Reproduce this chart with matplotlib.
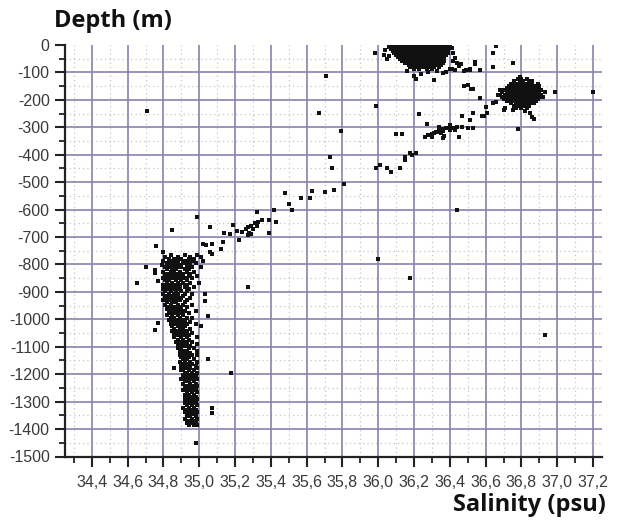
import numpy as np
import matplotlib
matplotlib.use("Agg")
import matplotlib.pyplot as plt
import matplotlib.ticker as ticker

plt.rcParams['font.family'] = ['Liberation Sans', 'DejaVu Sans']
plt.rcParams['axes.unicode_minus'] = False

# Surface water blob: (depth, [salinities]) rows
surf_rows = [
    (-2, [36.09, 36.11, 36.13, 36.15, 36.17, 36.19, 36.21, 36.23, 36.25, 36.27, 36.29, 36.31, 36.33, 36.35, 36.37, 36.39]),
    (-9, [36.08, 36.10, 36.12, 36.14, 36.16, 36.18, 36.20, 36.22, 36.24, 36.26, 36.28, 36.30, 36.32, 36.34, 36.36, 36.38, 36.40]),
    (-16, [36.07, 36.09, 36.11, 36.13, 36.15, 36.17, 36.19, 36.21, 36.23, 36.25, 36.27, 36.29, 36.31, 36.33, 36.35, 36.37, 36.39]),
    (-23, [36.08, 36.10, 36.12, 36.14, 36.16, 36.18, 36.20, 36.22, 36.24, 36.26, 36.28, 36.30, 36.32, 36.34, 36.36, 36.38]),
    (-30, [36.09, 36.11, 36.13, 36.15, 36.17, 36.19, 36.21, 36.23, 36.25, 36.27, 36.29, 36.31, 36.33, 36.35, 36.37, 36.39]),
    (-37, [36.10, 36.12, 36.14, 36.16, 36.18, 36.20, 36.22, 36.24, 36.26, 36.28, 36.30, 36.32, 36.34, 36.36, 36.38]),
    (-44, [36.11, 36.13, 36.15, 36.17, 36.19, 36.21, 36.23, 36.25, 36.27, 36.29, 36.31, 36.33, 36.35, 36.37]),
    (-51, [36.12, 36.14, 36.16, 36.18, 36.20, 36.22, 36.24, 36.26, 36.28, 36.30, 36.32, 36.34, 36.36]),
    (-58, [36.13, 36.15, 36.17, 36.19, 36.21, 36.23, 36.25, 36.27, 36.29, 36.31, 36.33, 36.35, 36.37]),
    (-65, [36.15, 36.18, 36.20, 36.22, 36.24, 36.26, 36.28, 36.30, 36.32, 36.34, 36.36]),
    (-72, [36.17, 36.19, 36.21, 36.23, 36.25, 36.27, 36.29, 36.31, 36.33, 36.35]),
    (-80, [36.18, 36.21, 36.24, 36.26, 36.29, 36.31, 36.34]),
    (-88, [36.20, 36.23, 36.27, 36.30]),
]

# Subtropical blob around 36.8 psu / -180 m
mid_rows = [
    (-125, [36.78, 36.80, 36.83]),
    (-133, [36.76, 36.79, 36.81, 36.84, 36.86]),
    (-141, [36.74, 36.76, 36.78, 36.80, 36.82, 36.84, 36.86, 36.89]),
    (-149, [36.73, 36.75, 36.77, 36.79, 36.81, 36.83, 36.85, 36.87, 36.90]),
    (-157, [36.72, 36.74, 36.76, 36.78, 36.80, 36.82, 36.84, 36.86, 36.88, 36.90]),
    (-165, [36.70, 36.73, 36.75, 36.77, 36.79, 36.81, 36.83, 36.85, 36.87, 36.89, 36.91]),
    (-173, [36.69, 36.72, 36.74, 36.76, 36.78, 36.80, 36.82, 36.84, 36.86, 36.88, 36.90]),
    (-181, [36.68, 36.71, 36.73, 36.75, 36.77, 36.79, 36.81, 36.83, 36.85, 36.87, 36.89, 36.91]),
    (-189, [36.69, 36.72, 36.74, 36.76, 36.78, 36.80, 36.82, 36.84, 36.86, 36.88, 36.90]),
    (-197, [36.70, 36.73, 36.75, 36.77, 36.79, 36.81, 36.83, 36.85, 36.87, 36.89]),
    (-205, [36.72, 36.74, 36.76, 36.78, 36.80, 36.82, 36.84, 36.86, 36.88]),
    (-213, [36.74, 36.77, 36.79, 36.81, 36.83, 36.85, 36.87]),
    (-221, [36.76, 36.78, 36.80, 36.82, 36.84]),
    (-229, [36.77, 36.80, 36.83]),
]

# Intermediate/deep water column
deep_rows = [
    (-765, [34.84, 34.92, 34.99]), (-772, [34.81, 34.88, 34.95, 35.01]),
    (-780, [34.83, 34.86, 34.90, 34.94, 34.97]), (-788, [34.80, 34.85, 34.88, 34.92, 34.96, 35.02]),
    (-795, [34.82, 34.84, 34.87, 34.91, 34.94, 34.98]), (-803, [34.79, 34.83, 34.86, 34.89, 34.93, 34.95]),
    (-810, [34.81, 34.84, 34.88, 34.90, 34.96, 35.01]), (-818, [34.82, 34.85, 34.87, 34.92, 34.94]),
    (-826, [34.80, 34.84, 34.86, 34.89, 34.93, 34.97]), (-834, [34.81, 34.83, 34.87, 34.91, 34.95]),
    (-842, [34.82, 34.85, 34.88, 34.90, 34.94, 34.99]), (-850, [34.80, 34.84, 34.86, 34.89, 34.92, 34.96]),
    (-858, [34.81, 34.83, 34.87, 34.90, 34.93]), (-866, [34.82, 34.85, 34.88, 34.91, 34.95, 35.00]),
    (-874, [34.80, 34.84, 34.86, 34.89, 34.93]), (-882, [34.81, 34.83, 34.85, 34.88, 34.92, 34.97]),
    (-890, [34.80, 34.82, 34.86, 34.89, 34.94]), (-898, [34.81, 34.84, 34.87, 34.90, 34.93]),
    (-906, [34.80, 34.83, 34.86, 34.88, 34.92, 34.96]), (-914, [34.82, 34.85, 34.87, 34.91]),
    (-922, [34.81, 34.84, 34.88, 34.90, 34.95]), (-930, [34.80, 34.83, 34.86, 34.89, 34.93]),
    (-938, [34.82, 34.85, 34.87, 34.92]), (-946, [34.81, 34.84, 34.88, 34.91, 34.96]),
    (-954, [34.83, 34.86, 34.89, 34.93]), (-962, [34.82, 34.85, 34.87, 34.90]),
    (-970, [34.83, 34.86, 34.89, 34.92, 34.98]), (-978, [34.84, 34.87, 34.90, 34.94]),
    (-986, [34.82, 34.85, 34.88, 34.91]), (-994, [34.84, 34.86, 34.89, 34.93, 34.96]),
    (-1002, [34.83, 34.87, 34.90, 34.92]), (-1010, [34.85, 34.88, 34.91, 34.95]),
    (-1018, [34.84, 34.86, 34.89, 34.93, 34.98]), (-1026, [34.85, 34.88, 34.90, 34.92]),
    (-1034, [34.86, 34.89, 34.91, 34.95]), (-1042, [34.85, 34.87, 34.90, 34.93]),
    (-1050, [34.86, 34.88, 34.92, 34.96]), (-1058, [34.87, 34.89, 34.91, 34.94]),
    (-1066, [34.86, 34.90, 34.93, 34.99]), (-1074, [34.88, 34.91, 34.94]),
    (-1082, [34.87, 34.89, 34.92, 34.96]), (-1090, [34.88, 34.90, 34.93, 34.99]),
    (-1098, [34.89, 34.92, 34.95]), (-1106, [34.88, 34.90, 34.94, 34.97]),
    (-1114, [34.89, 34.91, 34.93, 34.99]), (-1122, [34.90, 34.92, 34.95]),
    (-1130, [34.89, 34.93, 34.96, 34.99]), (-1138, [34.90, 34.92, 34.94]),
    (-1146, [34.91, 34.93, 34.97]), (-1154, [34.89, 34.92, 34.95, 34.99]),
    (-1162, [34.91, 34.94, 34.96]), (-1170, [34.90, 34.93, 34.98]),
    (-1178, [34.92, 34.95, 34.99]), (-1186, [34.90, 34.91, 34.94, 34.97]),
    (-1194, [34.92, 34.93, 34.96, 34.99]), (-1202, [34.91, 34.94, 34.98]),
    (-1210, [34.92, 34.95, 34.97]), (-1218, [34.90, 34.93, 34.96, 34.99]),
    (-1226, [34.92, 34.94, 34.97]), (-1234, [34.91, 34.95, 34.98]),
    (-1242, [34.93, 34.96, 34.99]), (-1250, [34.92, 34.94, 34.97]),
    (-1258, [34.91, 34.95, 34.98]), (-1266, [34.93, 34.96, 34.99]),
    (-1274, [34.92, 34.94, 34.97]), (-1282, [34.93, 34.95, 34.98]),
    (-1290, [34.92, 34.96, 34.99]), (-1298, [34.93, 34.95, 34.97]),
    (-1306, [34.92, 34.94, 34.98]), (-1314, [34.93, 34.96, 34.99]),
    (-1322, [34.91, 34.94, 34.97]), (-1330, [34.93, 34.95, 34.98]),
    (-1338, [34.92, 34.96, 34.99]), (-1346, [34.94, 34.97]),
    (-1354, [34.93, 34.95, 34.98]), (-1362, [34.92, 34.96, 34.99]),
    (-1370, [34.94, 34.97]), (-1378, [34.93, 34.95, 34.98]),
    (-1386, [34.94, 34.97, 34.99]),
]

# Isolated samples (salinity, depth)
loose_pts = [
    (34.71, -240), (34.65, -869), (34.70, -810), (34.75, -820), (34.75, -830), (34.77, -862),
    (34.75, -1040), (34.77, -1015), (34.76, -734), (34.80, -754), (34.86, -1179), (35.03, -909),
    (35.03, -934), (35.05, -989), (35.05, -1145), (35.18, -1197), (35.07, -1325), (35.07, -1343),
    (35.27, -883), (34.98, -1449), (35.01, -1025),
    (34.85, -675), (34.99, -627), (35.06, -663), (35.02, -724), (35.04, -730), (35.07, -726),
    (35.06, -756), (35.07, -763), (35.13, -718), (35.12, -742), (35.14, -687), (35.17, -690),
    (35.19, -655), (35.22, -712), (35.21, -678), (35.24, -680), (35.26, -672), (35.27, -665),
    (35.28, -685), (35.29, -660), (35.30, -670), (35.31, -650), (35.32, -660), (35.33, -645),
    (35.29, -690), (35.27, -693), (35.32, -608), (35.35, -639), (35.39, -639), (35.39, -685),
    (35.42, -600), (35.43, -647), (35.48, -539), (35.50, -580), (35.52, -602), (35.57, -556),
    (35.62, -558), (35.63, -532), (35.70, -537), (35.75, -529), (35.81, -507), (35.73, -408),
    (35.74, -449), (35.79, -314), (35.67, -247), (35.71, -113), (35.99, -223), (35.98, -30),
    (35.99, -449), (36.01, -439), (36.05, -447), (36.07, -464), (36.12, -447), (36.10, -325),
    (36.13, -325), (36.15, -410), (36.15, -420), (36.18, -395), (36.19, -402), (36.21, -395),
    (36.23, -250),
    (36.27, -288), (36.26, -335), (36.28, -329), (36.30, -325), (36.31, -321), (36.32, -318),
    (36.33, -316), (36.34, -310), (36.35, -320), (36.36, -308), (36.36, -313), (36.37, -330),
    (36.38, -304), (36.39, -301), (36.40, -310), (36.41, -304), (36.42, -301), (36.43, -310),
    (36.44, -298), (36.45, -337), (36.36, -340), (36.30, -335), (36.34, -300), (36.47, -300),
    (36.50, -302), (36.53, -304), (36.40, -293),
    (36.47, -259), (36.51, -274), (36.53, -247), (36.58, -259), (36.61, -247), (36.57, -195),
    (36.60, -225), (36.48, -150), (36.52, -162), (36.53, -162), (36.57, -91), (36.54, -61),
    (36.54, -69), (36.49, -91), (36.51, -88), (36.64, -30), (36.64, -79), (36.66, -3),
    (36.75, -67), (36.99, -170), (37.20, -170), (36.78, -307), (36.44, -602), (36.00, -781),
    (36.18, -848), (36.93, -1056),
    # fringes of the surface blob
    (35.98, -29), (36.03, -35), (36.05, -50), (36.04, -17), (36.42, -29), (36.43, -47),
    (36.44, -66), (36.45, -78), (36.43, -90), (36.40, -87), (36.48, -96), (36.51, -90),
    (36.50, -145), (36.20, -114), (36.21, -123), (36.31, -127), (36.24, -104), (36.28, -100),
    (36.36, -103), (36.38, -100), (36.41, -89), (36.46, -69), (36.06, -8), (36.41, -12),
    (36.06, -40), (36.42, -58), (36.16, -96), (36.33, -95),
    # fringes of the 36.8 blob
    (36.79, -118), (36.90, -152), (36.90, -176), (36.64, -212), (36.66, -207), (36.67, -183),
    (36.68, -164), (36.70, -237), (36.71, -231), (36.61, -249), (36.59, -259), (36.85, -249),
    (36.86, -262), (36.87, -268), (36.93, -170), (36.92, -190), (36.75, -238), (36.82, -240),
]

x_ticks = [34.4, 34.6, 34.8, 35.0, 35.2, 35.4, 35.6, 35.8, 36.0, 36.2, 36.4, 36.6, 36.8, 37.0, 37.2]
y_ticks = [0, -100, -200, -300, -400, -500, -600, -700, -800, -900, -1000, -1100, -1200, -1300, -1400, -1500]


def expand(rows):
    s, d = [], []
    for dep, sals in rows:
        s += sals
        d += [dep] * len(sals)
    return np.array(s), np.array(d)


fig = plt.figure(figsize=(6.19, 5.23), dpi=100)
ax = fig.add_axes([65 / 619, 1 - 456.5 / 523, 537 / 619, 411.5 / 523])

ax.set_xlim(34.25, 37.25)
ax.set_ylim(-1500, 0)

# grid drawn by hand so that no line lies on the top edge
major_c = '#8783ad'
minor_c = '#bccabf'
for xv in np.arange(34.3, 37.25, 0.2):
    ax.axvline(xv, color=minor_c, lw=0.9, ls=(0, (1, 2.5)), zorder=0)
for yv in np.arange(-1450, 0, 100):
    ax.axhline(yv, color=minor_c, lw=0.9, ls=(0, (1, 2.5)), zorder=0)
for xv in x_ticks:
    ax.axvline(xv, color=major_c, lw=1.2, zorder=1)
for yv in y_ticks[1:-1]:
    ax.axhline(yv, color=major_c, lw=1.2, zorder=1)

for rows in (surf_rows, mid_rows, deep_rows):
    s, d = expand(rows)
    ax.plot(s, d, 's', ms=2.3, color='#111111', mew=0, zorder=3)
ls, ld = np.array(loose_pts).T
ax.plot(ls, ld, 's', ms=2.3, color='#111111', mew=0, zorder=3)

ax.set_xticks(x_ticks)
ax.set_yticks(y_ticks)
ax.xaxis.set_minor_locator(ticker.MultipleLocator(0.1))
ax.yaxis.set_minor_locator(ticker.MultipleLocator(50))
ax.xaxis.set_major_formatter(ticker.FuncFormatter(lambda v, p: f'{v:.1f}'.replace('.', ',')))
ax.yaxis.set_major_formatter(ticker.FuncFormatter(lambda v, p: f'{int(round(v))}'))
ax.tick_params(which='major', length=7, width=1.5, color='#222222', labelsize=11.5,
               labelcolor='#3a3a3a', pad=4)
ax.tick_params(which='minor', length=4, width=1.3, color='#222222')
ax.tick_params(axis='x', which='major', pad=6)

for side in ('top', 'right'):
    ax.spines[side].set_visible(False)
for side in ('left', 'bottom'):
    ax.spines[side].set_linewidth(1.6)
    ax.spines[side].set_color('#222222')

fig.text(54 / 619, 1 - 21 / 523, 'Depth (m)', fontsize=17, fontweight='bold',
         family='Open Sans', ha='left', va='center', color='#111111')
fig.text(606 / 619, 1 - 505 / 523, 'Salinity (psu)', fontsize=17, fontweight='bold',
         family='Open Sans', ha='right', va='center', color='#111111')

fig.savefig('out.png', dpi=100, facecolor='white')
